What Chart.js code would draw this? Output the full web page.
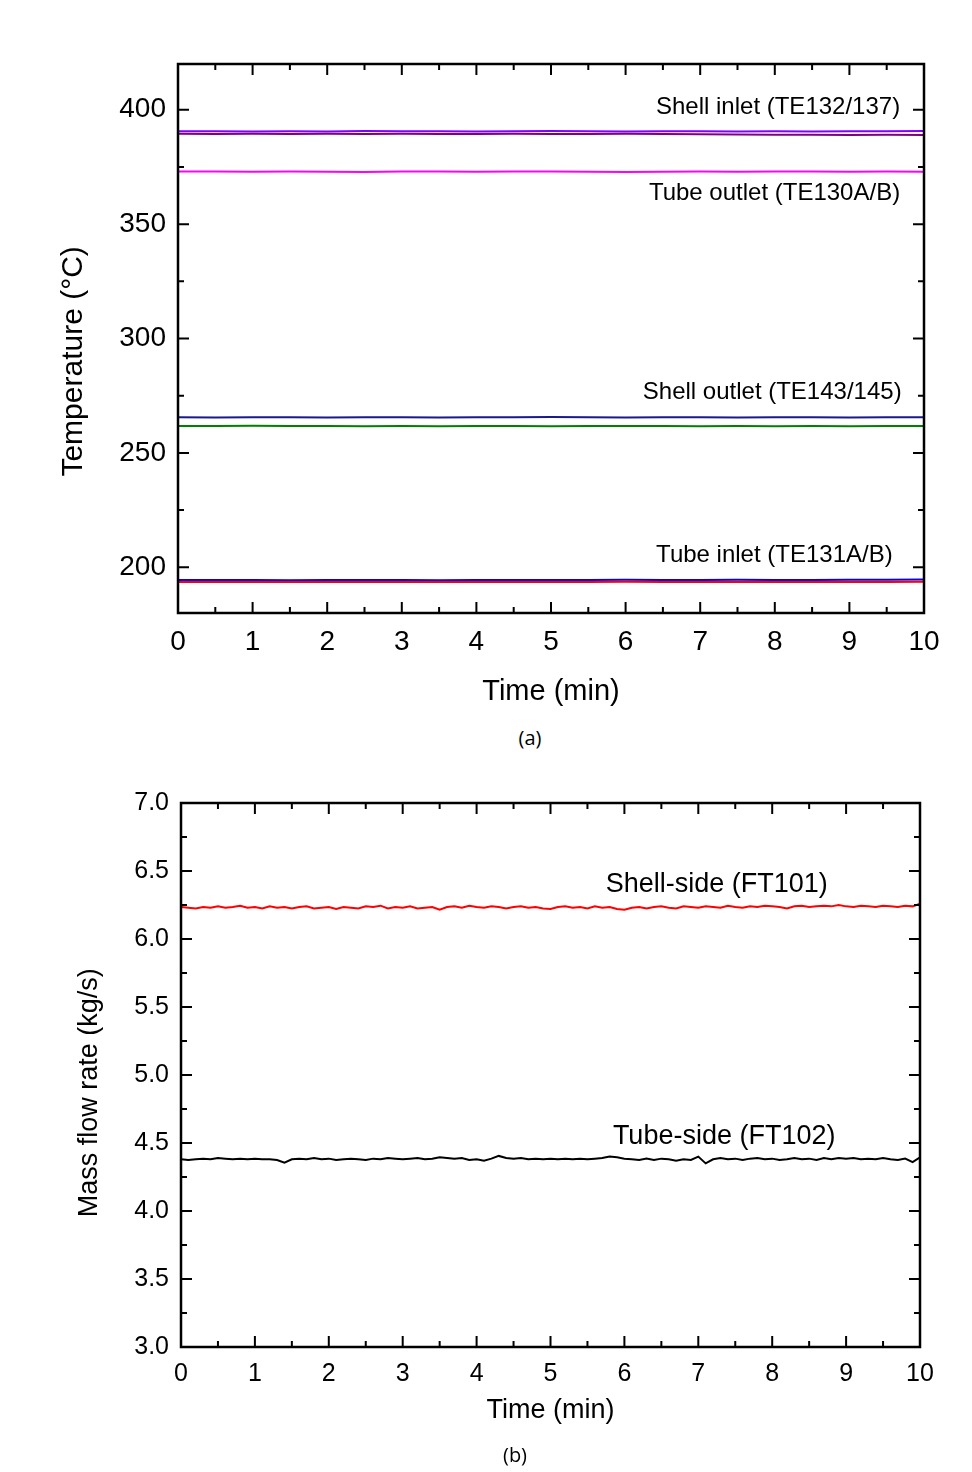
<!DOCTYPE html>
<html><head><meta charset="utf-8">
<script src="https://cdn.jsdelivr.net/npm/chart.js@4.4.0/dist/chart.umd.min.js"></script>
<style>
html,body{margin:0;padding:0;background:#fff;width:972px;height:1472px;overflow:hidden;}
.box{position:absolute;left:0;width:972px;}
#c1box{top:0;height:720px;}
#c2box{top:760px;height:712px;}
.cap{position:absolute;font-family:"Open Sans","Noto Sans",sans-serif;font-size:20px;color:#000;transform:translate(-50%,-50%);}
</style></head><body>
<div class="box" id="c1box"><canvas id="c1" width="972" height="720"></canvas></div>
<div class="cap" style="left:530px;top:737px;">(a)</div>
<div class="box" id="c2box"><canvas id="c2" width="972" height="712"></canvas></div>
<div class="cap" style="left:515px;top:1454px;">(b)</div>
<script>
// ---------- data: chart (a) ----------
const timesA = [0,0.5,1,1.5,2,2.5,3,3.5,4,4.5,5,5.5,6,6.5,7,7.5,8,8.5,9,9.5,10];
const shellInletA = [390.6,390.6,390.5,390.6,390.5,390.7,390.6,390.6,390.5,390.6,390.7,390.6,390.5,390.6,390.6,390.5,390.6,390.5,390.6,390.6,390.7];
const shellInletB = [389.5,389.4,389.5,389.4,389.5,389.4,389.5,389.4,389.4,389.5,389.4,389.4,389.5,389.4,389.3,389.2,389.1,389.1,389.0,389.1,389.0];
const tubeOutlet  = [373.0,373.0,372.9,373.0,372.9,372.8,373.0,373.0,372.9,373.0,373.0,372.9,372.8,372.9,373.0,372.9,373.0,373.0,372.9,373.0,372.9];
const shellOutletA = [265.6,265.5,265.6,265.6,265.5,265.6,265.6,265.5,265.6,265.6,265.7,265.6,265.5,265.6,265.6,265.5,265.6,265.6,265.5,265.6,265.6];
const shellOutletB = [261.7,261.8,261.9,261.8,261.7,261.6,261.7,261.6,261.8,261.7,261.6,261.7,261.8,261.7,261.6,261.7,261.6,261.7,261.6,261.7,261.8];
const tubeInletA = [194.4,194.4,194.4,194.3,194.4,194.4,194.4,194.3,194.4,194.4,194.4,194.4,194.5,194.4,194.4,194.5,194.4,194.4,194.5,194.5,194.6];
const tubeInletB = [193.6,193.5,193.6,193.6,193.5,193.6,193.5,193.6,193.6,193.5,193.6,193.6,193.7,193.6,193.6,193.5,193.6,193.6,193.6,193.6,193.7];
const xTicksA = [0,1,2,3,4,5,6,7,8,9,10];
const yTicksA = [200,250,300,350,400];

// ---------- data: chart (b) ----------
const timesB = [0,0.1,0.2,0.3,0.4,0.5,0.6,0.7,0.8,0.9,1,1.1,1.2,1.3,1.4,1.5,1.6,1.7,1.8,1.9,2,2.1,2.2,2.3,2.4,2.5,2.6,2.7,2.8,2.9,3,3.1,3.2,3.3,3.4,3.5,3.6,3.7,3.8,3.9,4,4.1,4.2,4.3,4.4,4.5,4.6,4.7,4.8,4.9,5,5.1,5.2,5.3,5.4,5.5,5.6,5.7,5.8,5.9,6,6.1,6.2,6.3,6.4,6.5,6.6,6.7,6.8,6.9,7,7.1,7.2,7.3,7.4,7.5,7.6,7.7,7.8,7.9,8,8.1,8.2,8.3,8.4,8.5,8.6,8.7,8.8,8.9,9,9.1,9.2,9.3,9.4,9.5,9.6,9.7,9.8,9.9,10];
const shellSide = [6.235,6.23,6.225,6.235,6.23,6.24,6.23,6.235,6.245,6.23,
6.235,6.225,6.24,6.23,6.235,6.225,6.235,6.24,6.225,6.23,
6.235,6.22,6.235,6.23,6.225,6.24,6.235,6.245,6.225,6.235,
6.23,6.24,6.225,6.23,6.235,6.215,6.235,6.24,6.23,6.245,
6.235,6.23,6.24,6.235,6.225,6.235,6.24,6.23,6.235,6.225,
6.22,6.235,6.24,6.23,6.235,6.225,6.24,6.23,6.235,6.22,
6.215,6.23,6.235,6.225,6.235,6.24,6.23,6.225,6.24,6.235,
6.23,6.24,6.235,6.23,6.245,6.235,6.23,6.24,6.235,6.245,
6.24,6.235,6.225,6.24,6.245,6.235,6.24,6.245,6.24,6.25,
6.24,6.235,6.245,6.24,6.235,6.245,6.24,6.235,6.245,6.24,6.26];
const tubeSide = [4.38,4.375,4.38,4.385,4.38,4.39,4.385,4.38,4.385,4.38,
4.385,4.38,4.38,4.375,4.355,4.38,4.385,4.38,4.39,4.38,
4.385,4.375,4.38,4.385,4.38,4.375,4.385,4.38,4.39,4.385,
4.38,4.385,4.39,4.38,4.385,4.395,4.39,4.385,4.39,4.375,
4.38,4.37,4.385,4.405,4.39,4.385,4.39,4.38,4.385,4.38,
4.385,4.38,4.385,4.38,4.385,4.38,4.385,4.39,4.40,4.395,
4.385,4.38,4.375,4.385,4.375,4.385,4.38,4.37,4.38,4.375,
4.40,4.35,4.38,4.39,4.38,4.385,4.375,4.385,4.39,4.38,
4.385,4.375,4.38,4.39,4.38,4.385,4.375,4.39,4.38,4.39,
4.385,4.39,4.38,4.385,4.38,4.39,4.38,4.375,4.385,4.36,4.395];
const xTicksB = [0,1,2,3,4,5,6,7,8,9,10];
const yTicksB = [3.0,3.5,4.0,4.5,5.0,5.5,6.0,6.5,7.0];

const FONT = "'Liberation Sans', Arial, sans-serif";

function pts(xs, ys){ return ys.map((v,i)=>({x:xs[i], y:v})); }
function ds(label, xs, ys, color){
  return {label, data: pts(xs, ys), borderColor: color, backgroundColor: color, borderWidth: 2, pointRadius: 0, tension: 0, fill: false};
}

function framePlugin(cfg){
  return {
    id: 'frame',
    afterDatasetsDraw(chart){
      const {ctx, chartArea: a, scales: {x, y}} = chart;
      ctx.save();
      ctx.strokeStyle = '#000';
      ctx.lineWidth = 2;
      const maj = 11, mn = 6;
      const xs = x.ticks.map(t => t.value);
      const ys = y.ticks.map(t => t.value);
      const xStep = xs[1]-xs[0], yStep = ys[1]-ys[0];
      ctx.beginPath();
      xs.forEach(v => { const p = x.getPixelForValue(v);
        ctx.moveTo(p, a.bottom); ctx.lineTo(p, a.bottom - maj);
        ctx.moveTo(p, a.top); ctx.lineTo(p, a.top + maj); });
      for (let v = xs[0] - xStep/2; v <= x.max; v += xStep) { if (v < x.min) continue; const p = x.getPixelForValue(v);
        ctx.moveTo(p, a.bottom); ctx.lineTo(p, a.bottom - mn);
        ctx.moveTo(p, a.top); ctx.lineTo(p, a.top + mn); }
      ys.forEach(v => { const p = y.getPixelForValue(v);
        ctx.moveTo(a.left, p); ctx.lineTo(a.left + maj, p);
        ctx.moveTo(a.right, p); ctx.lineTo(a.right - maj, p); });
      for (let v = ys[0] - yStep/2; v <= y.max; v += yStep) { if (v < y.min) continue; const p = y.getPixelForValue(v);
        ctx.moveTo(a.left, p); ctx.lineTo(a.left + mn, p);
        ctx.moveTo(a.right, p); ctx.lineTo(a.right - mn, p); }
      ctx.stroke();
      ctx.lineWidth = 2.5;
      ctx.strokeRect(a.left, a.top, a.right - a.left, a.bottom - a.top);
      ctx.fillStyle = '#000';
      ctx.textBaseline = 'middle';
      cfg.labels.forEach(l => {
        ctx.font = cfg.labelSize + 'px ' + FONT;
        ctx.textAlign = l.align;
        ctx.fillText(l.text, x.getPixelForValue(l.x), y.getPixelForValue(l.y));
      });
      // y-axis title
      const t = cfg.yTitle;
      ctx.save();
      ctx.translate(y.left + t.offset, y.getPixelForValue(t.at));
      ctx.rotate(-Math.PI/2);
      ctx.font = t.size + 'px ' + FONT;
      ctx.textAlign = 'center';
      ctx.fillText(t.text, 0, 0);
      ctx.restore();
      ctx.restore();
    }
  };
}

function makeChart(id, o){
  return new Chart(document.getElementById(id), {
    type: 'line',
    data: {datasets: o.datasets},
    options: {
      responsive: false, animation: false,
      layout: {padding: o.padding},
      plugins: {legend: {display: false}, tooltip: {enabled: false}},
      scales: {
        x: {type: 'linear', min: 0, max: 10,
          afterBuildTicks: s => { s.ticks = o.xTicks.map(v => ({value: v})); },
          afterFit: s => { s.height = o.xHeight; },
          grid: {display: false, drawTicks: false}, border: {display: false},
          ticks: {color: '#000', font: {family: FONT, size: o.tickSize}, padding: o.xTickPad, maxRotation: 0, callback: v => String(v)},
          title: {display: true, text: 'Time (min)', color: '#000', font: {family: FONT, size: o.titleSize}, padding: {top: 0, bottom: o.xTitlePad}}
        },
        y: {type: 'linear', min: o.yMin, max: o.yMax,
          afterBuildTicks: s => { s.ticks = o.yTicks.map(v => ({value: v})); },
          afterFit: s => { s.width = o.yWidth; },
          grid: {display: false, drawTicks: false}, border: {display: false},
          ticks: {color: '#000', font: {family: FONT, size: o.tickSize}, padding: o.yTickPad, callback: o.yFmt},
          title: {display: false}
        }
      }
    },
    plugins: [framePlugin({labels: o.labels, labelSize: o.labelSize, yTitle: o.yTitle})]
  });
}

makeChart('c1', {
  datasets: [
    ds('Shell inlet (TE132/137) B', timesA, shellInletB, '#800080'),
    ds('Shell inlet (TE132/137) A', timesA, shellInletA, '#8000ff'),
    ds('Tube outlet (TE130A/B)', timesA, tubeOutlet, '#ff00ff'),
    ds('Shell outlet (TE143/145) A', timesA, shellOutletA, '#1a1a8c'),
    ds('Shell outlet (TE143/145) B', timesA, shellOutletB, '#008000'),
    ds('Tube inlet (TE131A/B) B', timesA, tubeInletB, '#ff0000'),
    ds('Tube inlet (TE131A/B) A', timesA, tubeInletA, '#0000ff')
  ],
  padding: {left: 0, top: 64, right: 48, bottom: 0},
  xHeight: 107, yWidth: 178, yMin: 180, yMax: 420,
  xTicks: xTicksA, yTicks: yTicksA,
  tickSize: 28, titleSize: 29, labelSize: 24,
  xTickPad: 12, yTickPad: 12, xTitlePad: 11,
  yTitle: {text: 'Temperature (\u00B0C)', size: 30, offset: 74, at: 290},
  yFmt: v => String(v),
  labels: [
    {text: 'Shell inlet (TE132/137)', x: 9.68, y: 400.9, align: 'right'},
    {text: 'Tube outlet (TE130A/B)', x: 9.68, y: 363.3, align: 'right'},
    {text: 'Shell outlet (TE143/145)', x: 9.70, y: 276.4, align: 'right'},
    {text: 'Tube inlet (TE131A/B)', x: 9.58, y: 205.2, align: 'right'}
  ]
});

makeChart('c2', {
  datasets: [
    ds('Shell-side (FT101)', timesB, shellSide, '#ff0000'),
    ds('Tube-side (FT102)', timesB, tubeSide, '#000000')
  ],
  padding: {left: 0, top: 43, right: 52, bottom: 0},
  xHeight: 125, yWidth: 181, yMin: 3, yMax: 7,
  xTicks: xTicksB, yTicks: yTicksB,
  tickSize: 25, titleSize: 27, labelSize: 27,
  xTickPad: 12, yTickPad: 12, xTitlePad: 45,
  yTitle: {text: 'Mass flow rate (kg/s)', size: 27, offset: 90, at: 4.87},
  yFmt: v => v.toFixed(1),
  labels: [
    {text: 'Shell-side (FT101)', x: 7.25, y: 6.40, align: 'center'},
    {text: 'Tube-side (FT102)', x: 7.35, y: 4.55, align: 'center'}
  ]
});
</script>
</body></html>
